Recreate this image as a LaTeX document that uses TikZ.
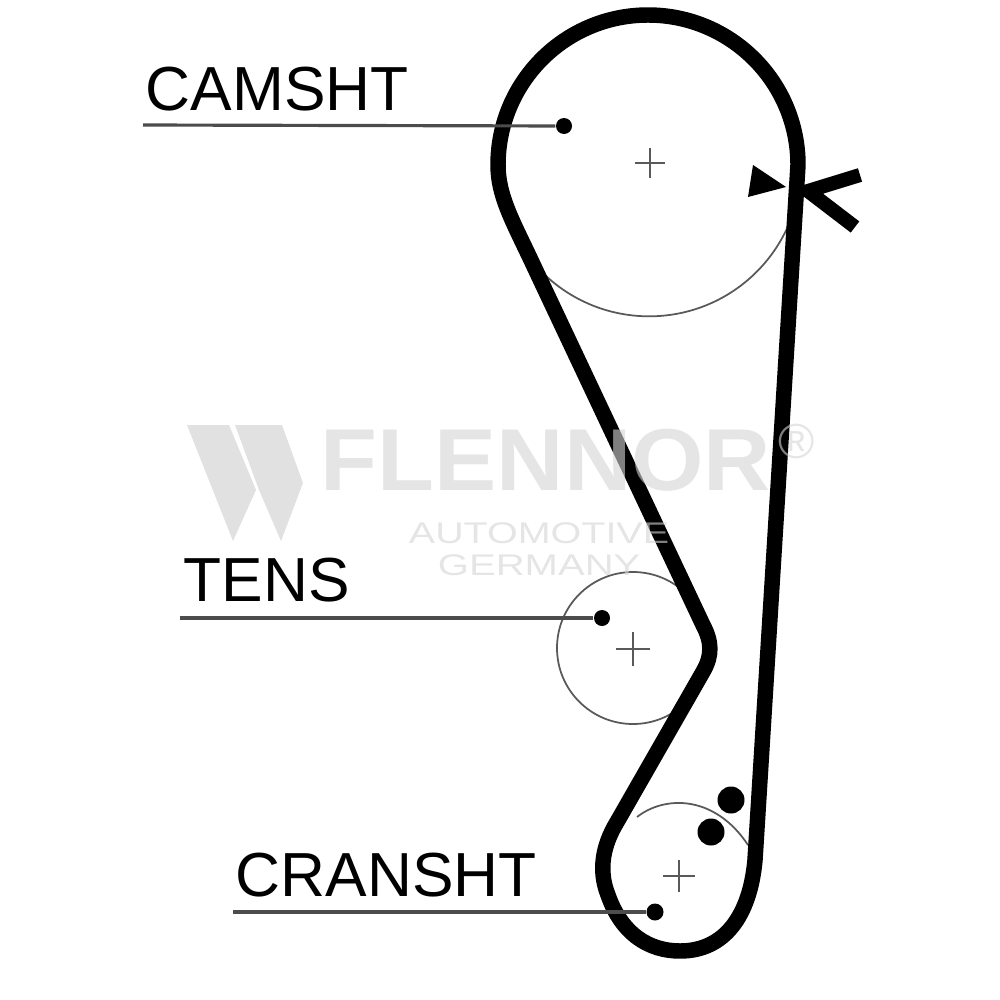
\documentclass[tikz,border=0pt]{standalone}
\usepackage{fontspec}
\setmainfont{Liberation Sans}
\def\beltwidth{4.4pt}
\def\thinwidth{0.5pt}
\definecolor{markgray}{gray}{0.83}
\tikzset{
    belt/.style={draw=black, line width=\beltwidth, line join=round},
    thinline/.style={draw=black!65, line width=\thinwidth},
    leader/.style={draw=black!70, line width=0.9pt},
    partlabel/.style={font=\fontsize{17.7}{18}\selectfont, text=black, inner sep=0pt, anchor=base west},
    watermark/.style={text=markgray, text opacity=0.6, inner sep=0pt, anchor=base west},
    pin/.style={circle, fill=black, inner sep=0pt, minimum size=#1}
}
\newcommand{\crossmark}[3]{
    \draw [thinline, line width=0.7pt] (#1-#3,#2) -- (#1+#3,#2) (#1,#2-#3) -- (#1,#2+#3);
}
\newcommand{\parttag}[6]{
    \node[partlabel] (#1label) at (#3,#4) {#2};
    \coordinate (#1end) at (#5,#6);
}
\begin{document}
\begin{tikzpicture}[x=0.01cm,y=-0.01cm]
    \useasboundingbox (0,0) rectangle (1000,1000);
    % pulleys
    \draw [thinline] (538,268) arc [start angle=137, end angle=19, radius=152];
    \draw [thinline] (633,648) circle [radius=76];
    \draw [thinline] (637,817) .. controls (665,795) and (715,795) .. (748,845);
    \crossmark{650}{163}{15}
    \crossmark{633}{649}{17}
    \crossmark{679}{876}{16}
    % belt
    \draw [belt] (798,165) arc [start angle=0, end angle=-180, radius=150]
        .. controls (498,195) and (512,220) .. (530,258) -- (703,625)
        .. controls (712,642) and (712,655) .. (704,670) -- (617,822)
        .. controls (603,845) and (598,870) .. (608,895)
        .. controls (622,935) and (650,951) .. (680,951)
        .. controls (725,951) and (750,915) .. (755,860) -- cycle;
    % timing marks
    \fill (753,165) -- (748,197) -- (786,187) -- cycle;
    \draw [line width=4pt, line join=miter] (860,175) -- (808,191) -- (855,227);
    % labels and pins
    \parttag{cam}{CAMSHT}{145}{110}{143}{125}
    \parttag{tens}{TENS}{183}{601}{180}{618}
    \parttag{cran}{CRANSHT}{235}{896}{233}{912}
    \node[pin=16*0.01cm] (campin) at (564,126) {};
    \node[pin=16*0.01cm] (tenspin) at (602,618) {};
    \node[pin=17*0.01cm] (cranpin) at (655,912) {};
    \node[pin=27*0.01cm] (boltupper) at (731,800) {};
    \node[pin=27*0.01cm] (boltlower) at (711,832) {};
    \draw [leader] (camend) -- (campin);
    \draw [leader] (tensend) -- (tenspin);
    \draw [leader] (cranend) -- (cranpin);
    % logo
    \fill [markgray!70!white] (187,425) -- (229,425) -- (256,490) -- (233,541) -- cycle;
    \fill [markgray!70!white] (235,425) -- (282,425) -- (303,483) -- (281,541) -- (259,490) -- cycle;
    \node[watermark, font=\fontsize{25}{25}\bfseries\selectfont, xscale=1.06] (brand) at (320,490) {FLENNOR};
    \node[watermark, font=\fontsize{8.5}{8.5}\selectfont, xscale=1.32] (brandtop) at (408,543) {AUTOMOTIVE};
    \node[watermark, font=\fontsize{8.5}{8.5}\selectfont, xscale=1.34] (brandlow) at (437,575) {GERMANY};
    \node[watermark, font=\fontsize{14}{14}\selectfont] (brandreg) at (778,458) {®};
\end{tikzpicture}
\end{document}
